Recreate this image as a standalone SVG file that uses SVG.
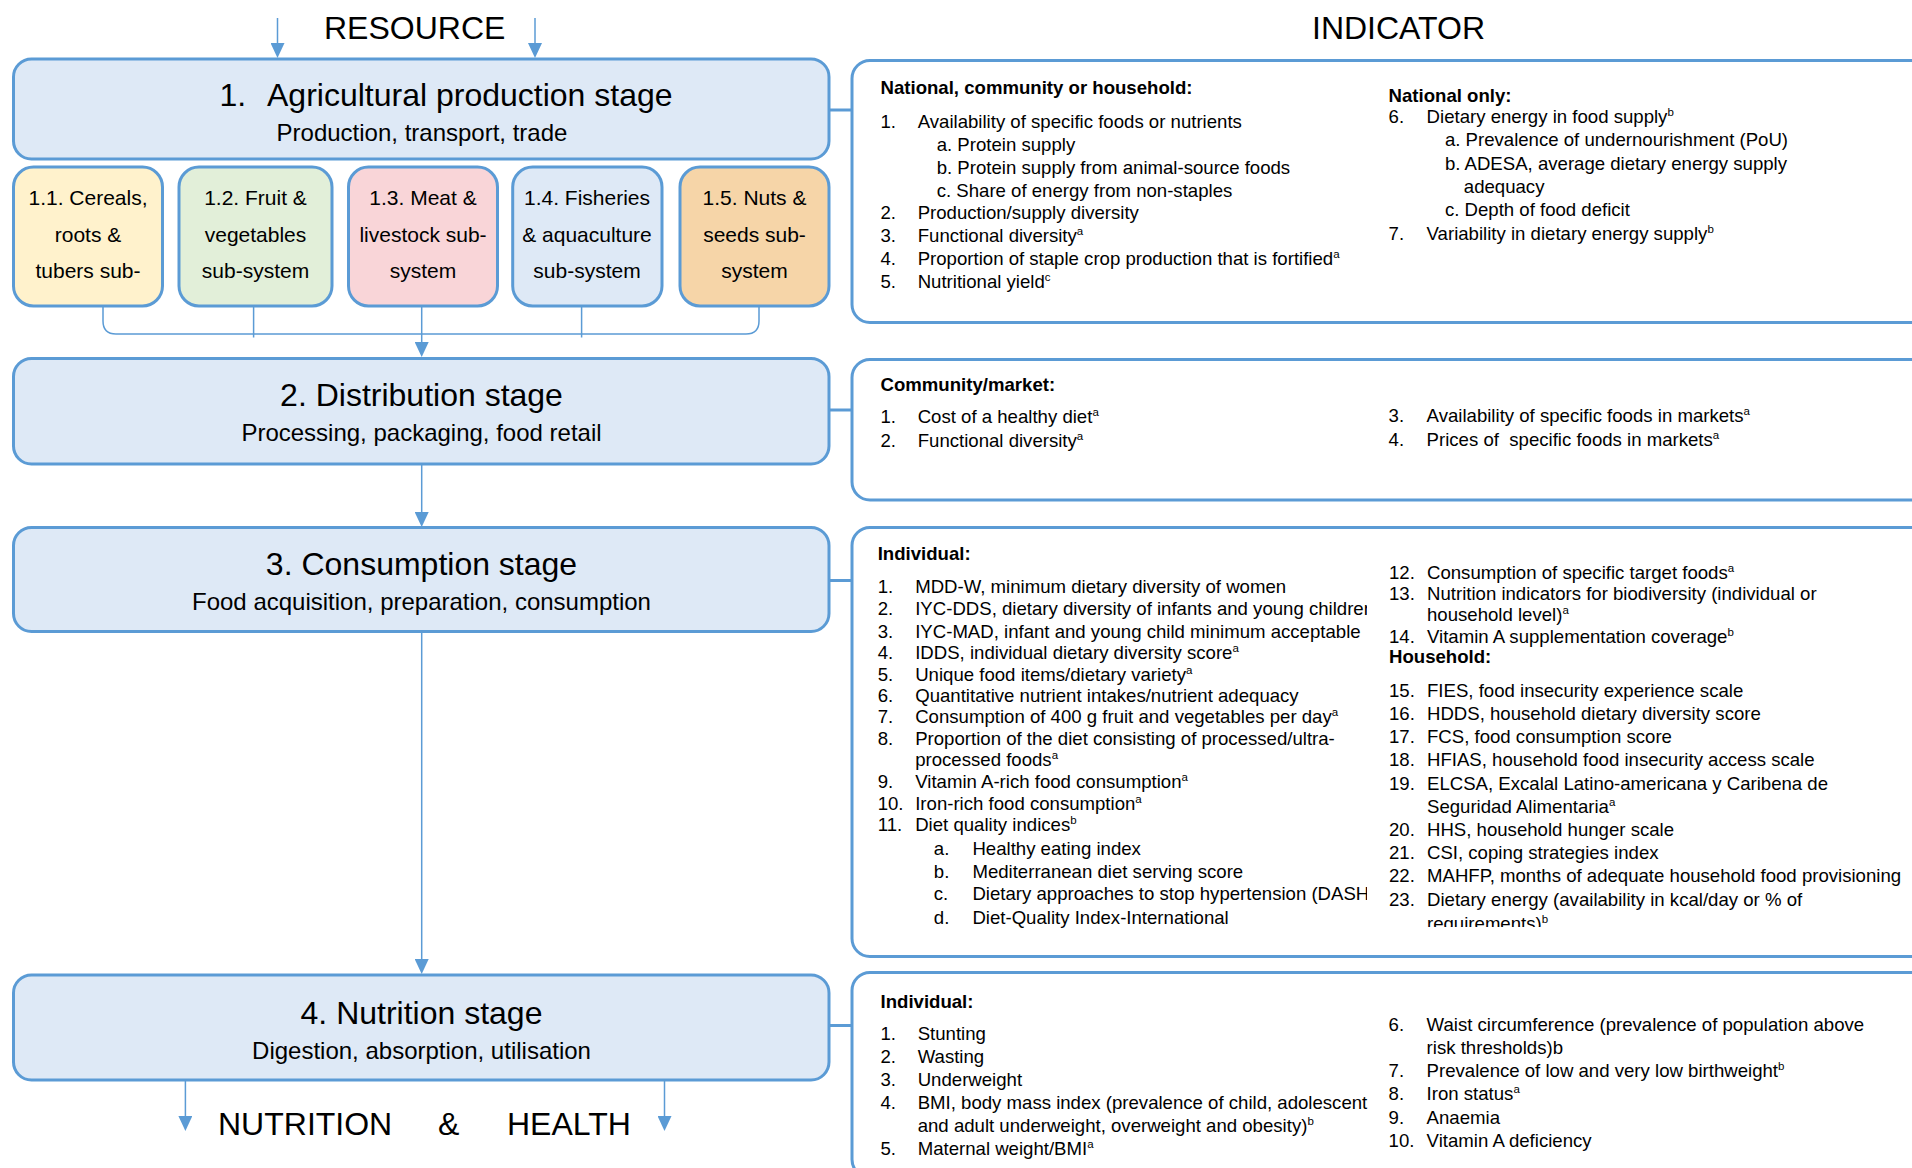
<svg xmlns="http://www.w3.org/2000/svg" width="1912" height="1168" viewBox="0 0 1912 1168">
  <style>
    .t { font-family: "Liberation Sans", Arial, sans-serif; fill: #000; }
    .big { font-size: 32px; }
    .title { font-size: 32px; text-anchor: middle; }
    .sub { font-size: 24px; text-anchor: middle; }
    .ss { font-size: 21px; text-anchor: middle; }
    .ind { font-size: 18.6px; white-space: pre; }
    .hd { font-size: 18.6px; font-weight: bold; }
    .sup { font-size: 11.5px; }
    .stage { fill: #dee9f6; stroke: #5b9bd5; stroke-width: 3; }
    .sys { stroke: #5b9bd5; stroke-width: 3; }
    .ibox { fill: #ffffff; stroke: #5b9bd5; stroke-width: 3; }
    .flow { fill: none; stroke: #5b9bd5; stroke-width: 1.5; }
    .link { fill: none; stroke: #5b9bd5; stroke-width: 3; }
  </style>
  <defs>
    <marker id="ah" markerUnits="userSpaceOnUse" markerWidth="15" markerHeight="14" viewBox="0 0 15 14" refX="0" refY="7" orient="auto">
      <path d="M0,0 L15,7 L0,14 z" fill="#5b9bd5"/>
    </marker>
    <clipPath id="clipC1"><rect x="850" y="527" width="517" height="430"/></clipPath>
    <clipPath id="clipC2"><rect x="1370" y="527" width="560" height="400"/></clipPath>
  </defs>

  <rect width="1912" height="1168" fill="#ffffff"/>

  <!-- column headings -->
  <text class="t big" x="324" y="39">RESOURCE</text>
  <text class="t big" x="1312" y="39">INDICATOR</text>

  <!-- connectors -->
  <g id="connectors">
    <line class="flow" x1="277.5" y1="18" x2="277.5" y2="43" marker-end="url(#ah)"/>
    <line class="flow" x1="535" y1="18" x2="535" y2="43" marker-end="url(#ah)"/>
    <!-- sub-systems merge into the distribution stage -->
    <path class="flow" d="M103,306 L103,321 Q103,334 116,334 L746,334 Q759,334 759,321 L759,306"/>
    <line class="flow" x1="253.6" y1="306" x2="253.6" y2="337.5"/>
    <line class="flow" x1="581.6" y1="306" x2="581.6" y2="337.5"/>
    <line class="flow" x1="421.7" y1="306" x2="421.7" y2="342" marker-end="url(#ah)"/>
    <line class="flow" x1="421.7" y1="465" x2="421.7" y2="512" marker-end="url(#ah)"/>
    <line class="flow" x1="421.7" y1="632" x2="421.7" y2="959" marker-end="url(#ah)"/>
    <line class="flow" x1="185.4" y1="1080" x2="185.4" y2="1116" marker-end="url(#ah)"/>
    <line class="flow" x1="664.5" y1="1080" x2="664.5" y2="1116" marker-end="url(#ah)"/>
    <!-- stage to indicator links -->
    <line class="link" x1="829" y1="110" x2="852" y2="110"/>
    <line class="link" x1="829" y1="410" x2="852" y2="410"/>
    <line class="link" x1="829" y1="580.5" x2="852" y2="580.5"/>
    <line class="link" x1="829" y1="1025.5" x2="852" y2="1025.5"/>
  </g>

  <!-- stage 1 -->
  <g id="stage1">
    <rect class="stage" x="13.5" y="59" width="815.5" height="100" rx="18"/>
    <text class="t" x="219.5" y="105.5" font-size="32">1.</text>
    <text class="t" x="267" y="105.5" font-size="32">Agricultural production stage</text>
    <text class="t sub" x="422" y="141">Production, transport, trade</text>
  </g>

  <g id="sub11">
    <rect class="sys" x="13.5" y="167" width="149" height="139" rx="20" fill="#fff2cc"/>
    <text class="t ss" x="88" y="205">1.1. Cereals,</text>
    <text class="t ss" x="88" y="241.5">roots &amp;</text>
    <text class="t ss" x="88" y="278">tubers sub-</text>
  </g>
  <g id="sub12">
    <rect class="sys" x="179" y="167" width="153" height="139" rx="20" fill="#e2efd9"/>
    <text class="t ss" x="255.5" y="205">1.2. Fruit &amp;</text>
    <text class="t ss" x="255.5" y="241.5">vegetables</text>
    <text class="t ss" x="255.5" y="278">sub-system</text>
  </g>
  <g id="sub13">
    <rect class="sys" x="348.5" y="167" width="149" height="139" rx="20" fill="#f9d5d8"/>
    <text class="t ss" x="423" y="205">1.3. Meat &amp;</text>
    <text class="t ss" x="423" y="241.5">livestock sub-</text>
    <text class="t ss" x="423" y="278">system</text>
  </g>
  <g id="sub14">
    <rect class="sys" x="512.7" y="167" width="149.3" height="139" rx="20" fill="#dee9f6"/>
    <text class="t ss" x="587" y="205">1.4. Fisheries</text>
    <text class="t ss" x="587" y="241.5">&amp; aquaculture</text>
    <text class="t ss" x="587" y="278">sub-system</text>
  </g>
  <g id="sub15">
    <rect class="sys" x="680" y="167" width="149" height="139" rx="20" fill="#f6d5a8"/>
    <text class="t ss" x="754.5" y="205">1.5. Nuts &amp;</text>
    <text class="t ss" x="754.5" y="241.5">seeds sub-</text>
    <text class="t ss" x="754.5" y="278">system</text>
  </g>

  <!-- stage 2 -->
  <g id="stage2">
    <rect class="stage" x="13.5" y="358.5" width="815.5" height="105.5" rx="18"/>
    <text class="t title" x="421.5" y="405.5">2. Distribution stage</text>
    <text class="t sub" x="421.5" y="441">Processing, packaging, food retail</text>
  </g>

  <!-- stage 3 -->
  <g id="stage3">
    <rect class="stage" x="13.5" y="527.5" width="815.5" height="104" rx="18"/>
    <text class="t title" x="421.5" y="574.5">3. Consumption stage</text>
    <text class="t sub" x="421.5" y="610">Food acquisition, preparation, consumption</text>
  </g>

  <!-- stage 4 -->
  <g id="stage4">
    <rect class="stage" x="13.5" y="975" width="815.5" height="105" rx="18"/>
    <text class="t title" x="421.5" y="1023.5">4. Nutrition stage</text>
    <text class="t sub" x="421.5" y="1058.5">Digestion, absorption, utilisation</text>
  </g>

  <!-- outcome label -->
  <g id="outcome">
    <text class="t big" x="218" y="1135">NUTRITION</text>
    <text class="t big" x="438" y="1135">&amp;</text>
    <text class="t big" x="507" y="1135">HEALTH</text>
  </g>

  <!-- indicators: production -->
  <g id="indA">
    <rect class="ibox" x="852" y="60.5" width="1090" height="262" rx="18"/>
    <text class="t hd" x="880.5" y="94.3">National, community or household:</text>
    <text class="t ind" y="128.2"><tspan x="880.5">1.</tspan><tspan x="917.7">Availability of specific foods or nutrients</tspan></text>
    <text class="t ind" x="936.7" y="150.9">a. Protein supply</text>
    <text class="t ind" x="936.7" y="173.8">b. Protein supply from animal-source foods</text>
    <text class="t ind" x="936.7" y="196.9">c. Share of energy from non-staples</text>
    <text class="t ind" y="219"><tspan x="880.5">2.</tspan><tspan x="917.7">Production/supply diversity</tspan></text>
    <text class="t ind" y="241.9"><tspan x="880.5">3.</tspan><tspan x="917.7">Functional diversity</tspan><tspan class="sup" dy="-7">a</tspan></text>
    <text class="t ind" y="265"><tspan x="880.5">4.</tspan><tspan x="917.7">Proportion of staple crop production that is fortified</tspan><tspan class="sup" dy="-7">a</tspan></text>
    <text class="t ind" y="288.3"><tspan x="880.5">5.</tspan><tspan x="917.7">Nutritional yield</tspan><tspan class="sup" dy="-7">c</tspan></text>

    <text class="t hd" x="1388.6" y="101.7">National only:</text>
    <text class="t ind" y="122.7"><tspan x="1388.6">6.</tspan><tspan x="1426.6">Dietary energy in food supply</tspan><tspan class="sup" dy="-7">b</tspan></text>
    <text class="t ind" x="1444.9" y="146">a. Prevalence of undernourishment (PoU)</text>
    <text class="t ind" x="1444.9" y="170">b. ADESA, average dietary energy supply</text>
    <text class="t ind" x="1463.8" y="192.9">adequacy</text>
    <text class="t ind" x="1444.9" y="216">c. Depth of food deficit</text>
    <text class="t ind" y="240.2"><tspan x="1388.6">7.</tspan><tspan x="1426.6">Variability in dietary energy supply</tspan><tspan class="sup" dy="-7">b</tspan></text>
  </g>

  <!-- indicators: distribution -->
  <g id="indB">
    <rect class="ibox" x="852" y="359.5" width="1090" height="140.5" rx="18"/>
    <text class="t hd" x="880.5" y="391.2">Community/market:</text>
    <text class="t ind" y="422.9"><tspan x="880.5">1.</tspan><tspan x="917.7">Cost of a healthy diet</tspan><tspan class="sup" dy="-7">a</tspan></text>
    <text class="t ind" y="447.2"><tspan x="880.5">2.</tspan><tspan x="917.7">Functional diversity</tspan><tspan class="sup" dy="-7">a</tspan></text>
    <text class="t ind" y="421.9"><tspan x="1388.6">3.</tspan><tspan x="1426.6">Availability of specific foods in markets</tspan><tspan class="sup" dy="-7">a</tspan></text>
    <text class="t ind" y="445.6"><tspan x="1388.6">4.</tspan><tspan x="1426.6">Prices of  specific foods in markets</tspan><tspan class="sup" dy="-7">a</tspan></text>
  </g>

  <!-- indicators: consumption -->
  <g id="indC">
    <rect class="ibox" x="852" y="527.5" width="1090" height="429" rx="18"/>
    <text class="t hd" x="877.7" y="560.2">Individual:</text>
    <g clip-path="url(#clipC1)">
      <text class="t ind" y="592.9"><tspan x="877.7">1.</tspan><tspan x="915.2">MDD-W, minimum dietary diversity of women</tspan></text>
      <text class="t ind" y="615.2"><tspan x="877.7">2.</tspan><tspan x="915.2">IYC-DDS, dietary diversity of infants and young children</tspan></text>
      <text class="t ind" y="637.9"><tspan x="877.7">3.</tspan><tspan x="915.2">IYC-MAD, infant and young child minimum acceptable</tspan></text>
      <text class="t ind" y="658.9"><tspan x="877.7">4.</tspan><tspan x="915.2">IDDS, individual dietary diversity score</tspan><tspan class="sup" dy="-7">a</tspan></text>
      <text class="t ind" y="681.2"><tspan x="877.7">5.</tspan><tspan x="915.2">Unique food items/dietary variety</tspan><tspan class="sup" dy="-7">a</tspan></text>
      <text class="t ind" y="702.2"><tspan x="877.7">6.</tspan><tspan x="915.2">Quantitative nutrient intakes/nutrient adequacy</tspan></text>
      <text class="t ind" y="722.9"><tspan x="877.7">7.</tspan><tspan x="915.2">Consumption of 400 g fruit and vegetables per day</tspan><tspan class="sup" dy="-7">a</tspan></text>
      <text class="t ind" y="745.2"><tspan x="877.7">8.</tspan><tspan x="915.2">Proportion of the diet consisting of processed/ultra-</tspan></text>
      <text class="t ind" y="766.2"><tspan x="915.2">processed foods</tspan><tspan class="sup" dy="-7">a</tspan></text>
      <text class="t ind" y="787.9"><tspan x="877.7">9.</tspan><tspan x="915.2">Vitamin A-rich food consumption</tspan><tspan class="sup" dy="-7">a</tspan></text>
      <text class="t ind" y="809.9"><tspan x="877.7">10.</tspan><tspan x="915.2">Iron-rich food consumption</tspan><tspan class="sup" dy="-7">a</tspan></text>
      <text class="t ind" y="831.4"><tspan x="877.7">11.</tspan><tspan x="915.2">Diet quality indices</tspan><tspan class="sup" dy="-7">b</tspan></text>
      <text class="t ind" y="854.7"><tspan x="933.8">a.</tspan><tspan x="972.4">Healthy eating index</tspan></text>
      <text class="t ind" y="877.6"><tspan x="933.8">b.</tspan><tspan x="972.4">Mediterranean diet serving score</tspan></text>
      <text class="t ind" y="900.2"><tspan x="933.8">c.</tspan><tspan x="972.4">Dietary approaches to stop hypertension (DASH</tspan></text>
      <text class="t ind" y="924"><tspan x="933.8">d.</tspan><tspan x="972.4">Diet-Quality Index-International</tspan></text>
    </g>
    <g clip-path="url(#clipC2)">
      <text class="t ind" y="578.5"><tspan x="1389">12.</tspan><tspan x="1427">Consumption of specific target foods</tspan><tspan class="sup" dy="-7">a</tspan></text>
      <text class="t ind" y="600.2"><tspan x="1389">13.</tspan><tspan x="1427">Nutrition indicators for biodiversity (individual or</tspan></text>
      <text class="t ind" y="621.2"><tspan x="1427">household level)</tspan><tspan class="sup" dy="-7">a</tspan></text>
      <text class="t ind" y="642.9"><tspan x="1389">14.</tspan><tspan x="1427">Vitamin A supplementation coverage</tspan><tspan class="sup" dy="-7">b</tspan></text>
      <text class="t hd" x="1389" y="662.9">Household:</text>
      <text class="t ind" y="696.9"><tspan x="1389">15.</tspan><tspan x="1427">FIES, food insecurity experience scale</tspan></text>
      <text class="t ind" y="720.2"><tspan x="1389">16.</tspan><tspan x="1427">HDDS, household dietary diversity score</tspan></text>
      <text class="t ind" y="743"><tspan x="1389">17.</tspan><tspan x="1427">FCS, food consumption score</tspan></text>
      <text class="t ind" y="766.3"><tspan x="1389">18.</tspan><tspan x="1427">HFIAS, household food insecurity access scale</tspan></text>
      <text class="t ind" y="789.6"><tspan x="1389">19.</tspan><tspan x="1427">ELCSA, Excalal Latino-americana y Caribena de</tspan></text>
      <text class="t ind" y="813"><tspan x="1427">Seguridad Alimentaria</tspan><tspan class="sup" dy="-7">a</tspan></text>
      <text class="t ind" y="835.8"><tspan x="1389">20.</tspan><tspan x="1427">HHS, household hunger scale</tspan></text>
      <text class="t ind" y="859.2"><tspan x="1389">21.</tspan><tspan x="1427">CSI, coping strategies index</tspan></text>
      <text class="t ind" y="881.8"><tspan x="1389">22.</tspan><tspan x="1427">MAHFP, months of adequate household food provisioning</tspan></text>
      <text class="t ind" y="906.2"><tspan x="1389">23.</tspan><tspan x="1427">Dietary energy (availability in kcal/day or % of</tspan></text>
      <text class="t ind" y="929.5"><tspan x="1427">requirements)</tspan><tspan class="sup" dy="-7">b</tspan></text>
    </g>
  </g>

  <!-- indicators: nutrition -->
  <g id="indD">
    <rect class="ibox" x="852" y="972.5" width="1090" height="205" rx="18"/>
    <text class="t hd" x="880.5" y="1008.3">Individual:</text>
    <text class="t ind" y="1039.5"><tspan x="880.5">1.</tspan><tspan x="917.7">Stunting</tspan></text>
    <text class="t ind" y="1062.6"><tspan x="880.5">2.</tspan><tspan x="917.7">Wasting</tspan></text>
    <text class="t ind" y="1085.7"><tspan x="880.5">3.</tspan><tspan x="917.7">Underweight</tspan></text>
    <text class="t ind" y="1108.8"><tspan x="880.5">4.</tspan><tspan x="917.7">BMI, body mass index (prevalence of child, adolescent</tspan></text>
    <text class="t ind" y="1131.9"><tspan x="917.7">and adult underweight, overweight and obesity)</tspan><tspan class="sup" dy="-7">b</tspan></text>
    <text class="t ind" y="1155"><tspan x="880.5">5.</tspan><tspan x="917.7">Maternal weight/BMI</tspan><tspan class="sup" dy="-7">a</tspan></text>

    <text class="t ind" y="1031"><tspan x="1388.6">6.</tspan><tspan x="1426.6">Waist circumference (prevalence of population above</tspan></text>
    <text class="t ind" y="1054"><tspan x="1426.6">risk thresholds)b</tspan></text>
    <text class="t ind" y="1077.2"><tspan x="1388.6">7.</tspan><tspan x="1426.6">Prevalence of low and very low birthweight</tspan><tspan class="sup" dy="-7">b</tspan></text>
    <text class="t ind" y="1100.4"><tspan x="1388.6">8.</tspan><tspan x="1426.6">Iron status</tspan><tspan class="sup" dy="-7">a</tspan></text>
    <text class="t ind" y="1123.6"><tspan x="1388.6">9.</tspan><tspan x="1426.6">Anaemia</tspan></text>
    <text class="t ind" y="1146.8"><tspan x="1388.6">10.</tspan><tspan x="1426.6">Vitamin A deficiency</tspan></text>
  </g>
</svg>
